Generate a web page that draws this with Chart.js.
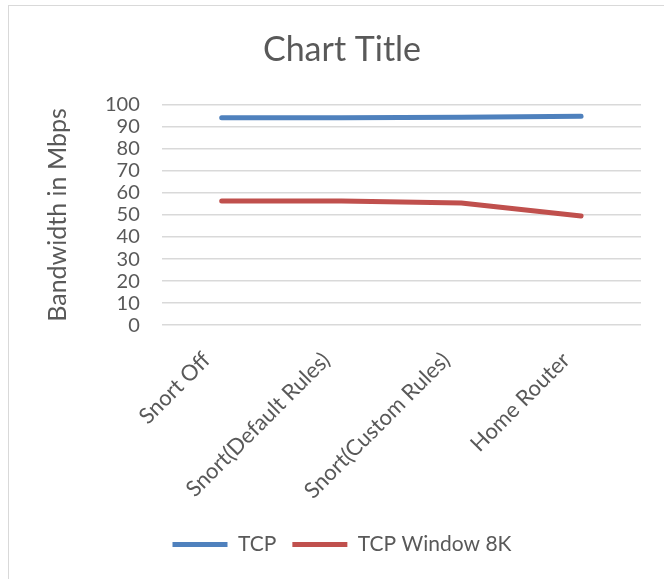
<!DOCTYPE html>
<html>
<head>
<meta charset="utf-8">
<script src="https://cdn.jsdelivr.net/npm/chart.js@4"></script>
<style>
  html, body { margin: 0; padding: 0; background: #fff; }
  #frame {
    position: absolute; left: 8px; top: 5px; width: 656px; height: 574px;
    border-left: 1px solid #d9d9d9; border-top: 1px solid #d9d9d9; box-sizing: border-box;
  }
  #chart { display: block; }
</style>
</head>
<body>
<div id="frame"><canvas id="chart" width="655" height="573"></canvas></div>
<script>
const categories = ['Snort Off', 'Snort(Default Rules)', 'Snort(Custom Rules)', 'Home Router'];
const tcp = [94.1, 94.1, 94.3, 94.8];
const tcpWindow8k = [56.3, 56.3, 55.4, 49.5];
const yTicks = [0, 10, 20, 30, 40, 50, 60, 70, 80, 90, 100];

const textColor = '#595959';
const gridColor = '#d9d9d9';
const font = 'Lato, "Liberation Sans", sans-serif';

const lineSet = (label, data, color) => ({
  label, data,
  borderColor: color, backgroundColor: color,
  borderWidth: 5, borderCapStyle: 'round', borderJoinStyle: 'round',
  pointRadius: 0, pointStyle: 'line', tension: 0
});

new Chart(document.getElementById('chart').getContext('2d'), {
  type: 'line',
  data: {
    labels: categories,
    datasets: [
      lineSet('TCP', tcp, '#4f81bd'),
      lineSet('TCP Window 8K', tcpWindow8k, '#c0504d')
    ]
  },
  options: {
    responsive: false,
    animation: false,
    layout: { padding: { left: 34, right: 23, top: 20, bottom: 14 } },
    plugins: {
      title: {
        display: true, text: 'Chart Title', color: textColor,
        font: { family: font, size: 34, weight: 'normal' },
        padding: { top: 4, bottom: 34 }
      },
      legend: {
        position: 'bottom',
        labels: {
          color: textColor, font: { family: font, size: 21 },
          usePointStyle: true, pointStyleWidth: 55, boxHeight: 5, padding: 16
        }
      },
      tooltip: { enabled: false }
    },
    scales: {
      x: {
        offset: true,
        grid: { display: false },
        border: { display: false },
        ticks: {
          color: textColor, font: { family: font, size: 22 },
          maxRotation: 45, minRotation: 45, autoSkip: false, padding: 14, labelOffset: -15
        }
      },
      y: {
        min: 0, max: 100,
        afterBuildTicks: axis => { axis.ticks = yTicks.map(v => ({ value: v })); },
        grid: { color: gridColor, lineWidth: 1.5, drawTicks: false },
        border: { display: false },
        ticks: { color: textColor, font: { family: font, size: 20 }, padding: 22, autoSkip: false },
        title: {
          display: true, text: 'Bandwidth in Mbps', color: textColor,
          font: { family: font, size: 25 }, padding: { top: 0, bottom: 10 }
        }
      }
    }
  }
});
</script>
</body>
</html>
